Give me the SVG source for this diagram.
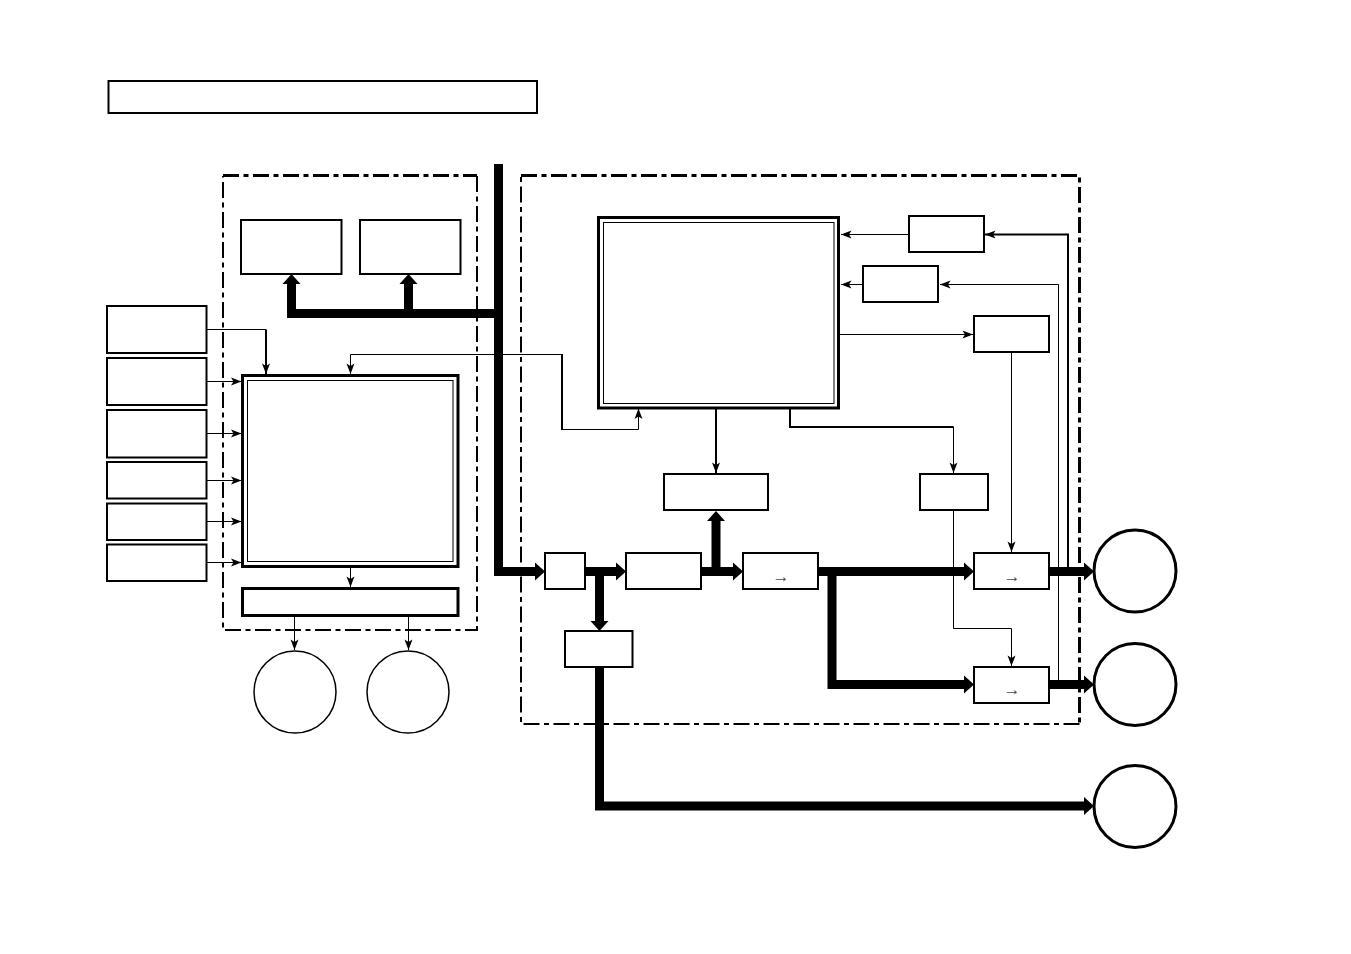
<svg xmlns="http://www.w3.org/2000/svg" width="1351" height="954" viewBox="0 0 1351 954">
<style>
.b{fill:#fff;stroke:#000;stroke-width:2}
.t{fill:#fff;stroke:#000;stroke-width:3}
.i{fill:none;stroke:#000;stroke-width:1}
.c{fill:#fff;stroke:#000;stroke-width:1.5}
.C{fill:#fff;stroke:#000;stroke-width:3}
.d{fill:none;stroke:#000;stroke-width:2;stroke-dasharray:16 4.500 5 4.500}
.D{fill:none;stroke:#000;stroke-width:3;stroke-dasharray:16 4.500 5 4.500}
.l{fill:none;stroke:#000;stroke-width:1;marker-end:url(#a)}
.l2{fill:none;stroke:#000;stroke-width:2;marker-end:url(#a)}
.p{fill:none;stroke:#000;stroke-width:1}
.p2{fill:none;stroke:#000;stroke-width:2}
.w{fill:none;stroke:#000;stroke-width:9;stroke-linejoin:miter}
.W{fill:none;stroke:#000;stroke-width:9;stroke-linejoin:miter;marker-end:url(#A)}
.x{font-family:"Liberation Serif",serif;font-size:17px;text-anchor:middle;fill:#444;opacity:.99}
</style>
<defs>
<marker id="a" markerUnits="userSpaceOnUse" markerWidth="12" markerHeight="10" refX="11" refY="5" orient="auto"><path d="M0.5 1L11 5L0.5 9L3 5Z" fill="#000"/></marker>
<marker id="A" markerUnits="userSpaceOnUse" markerWidth="11" markerHeight="20" refX="0.5" refY="10" orient="auto"><path d="M0.5 1L10.5 10L0.5 19Z" fill="#000"/></marker>
</defs>
<rect id="title" class="b" x="108.500" y="81" width="428.500" height="32"/>
<g id="group-left"><path class="D" d="M223 175.500H477"/><path class="d" d="M477 176V630H223V176"/></g>
<g id="group-right"><path class="D" d="M521 175.500H1079.500V724"/><path class="d" d="M1079.500 724H521V176"/></g>
<g id="connectors">
<path class="w" d="M498.500 164V571.500H536"/>
<path class="w" d="M498.500 313.500H291.500V283"/>
<path class="w" d="M408.500 313.500V283"/>
<path class="W" d="M498.500 571.500H535"/>
<path class="W" d="M291.500 313.500V284"/>
<path class="W" d="M408.500 313.500V284"/>
<path class="W" d="M585 571.500H616"/>
<path class="W" d="M599.500 571.500V621"/>
<path class="W" d="M702 571.500H733"/>
<path class="W" d="M716 571.500V521"/>
<path class="W" d="M819 571.500H964"/>
<path class="W" d="M832 571.500V684.500H964"/>
<path class="W" d="M1050 571.500H1084"/>
<path class="W" d="M1050 684.500H1084"/>
<path class="W" d="M599.500 667V806H1084"/>
<path class="p" d="M207 329.500H266"/><path class="l2" d="M266 329.500V374"/>
<path class="l" d="M562 354.500H350.500V374"/>
<path class="p2" d="M562 354V430"/>
<path class="l" d="M561 429.500H638.500V408.500"/>
<path class="l" d="M207 381.500H241.500"/>
<path class="l" d="M207 433.500H241.500"/>
<path class="l" d="M207 480.500H241.500"/>
<path class="l" d="M207 521.500H241.500"/>
<path class="l" d="M207 562.500H241.500"/>
<path class="l" d="M350.500 567V587"/>
<path class="l" d="M294.500 616V650"/>
<path class="l" d="M408.500 616V650"/>
<path class="l" d="M908 234.500H841"/>
<path class="l" d="M863 284.500H841"/>
<path class="l" d="M839 334.500H973"/>
<path class="l2" d="M1068 571V234.500H985"/>
<path class="l" d="M1058.500 684V284.500H940"/>
<path class="l" d="M1011.500 352V552"/>
<path class="l2" d="M716 408V473"/>
<path class="p2" d="M790 408V427H953.500"/>
<path class="l" d="M953.500 427V473"/>
<path class="l" d="M953.500 510V628.500H1011.500V666"/>
</g>
<g id="node-a"><rect class="b" x="241" y="220" width="100.500" height="54"/></g>
<g id="node-b"><rect class="b" x="360" y="220" width="100.500" height="54"/></g>
<g id="input-1"><rect class="b" x="107" y="306" width="99.500" height="47"/></g>
<g id="input-2"><rect class="b" x="107" y="358" width="99.500" height="47"/></g>
<g id="input-3"><rect class="b" x="107" y="410" width="99.500" height="47.500"/></g>
<g id="input-4"><rect class="b" x="107" y="462" width="99.500" height="36.500"/></g>
<g id="input-5"><rect class="b" x="107" y="503.500" width="99.500" height="36.500"/></g>
<g id="input-6"><rect class="b" x="107" y="544.500" width="99.500" height="36.500"/></g>
<g id="left-main"><rect class="t" x="242.500" y="375.500" width="215.500" height="191"/><rect class="i" x="247.500" y="380.500" width="205.500" height="181"/></g>
<g id="left-bar"><rect class="t" x="242.500" y="588.500" width="215.500" height="27"/></g>
<g id="circle-1"><circle class="c" cx="295" cy="692" r="41"/></g>
<g id="circle-2"><circle class="c" cx="408" cy="692" r="41"/></g>
<g id="right-main"><rect class="t" x="598.500" y="217.500" width="240" height="190.500"/><rect class="i" x="603.500" y="222.500" width="230.500" height="181"/></g>
<g id="box-r1"><rect class="b" x="909" y="216" width="75" height="36"/></g>
<g id="box-r2"><rect class="b" x="863" y="266" width="75" height="36"/></g>
<g id="box-r3"><rect class="b" x="974" y="316" width="75" height="36"/></g>
<g id="box-mid"><rect class="b" x="664" y="474" width="104" height="36"/></g>
<g id="box-sel"><rect class="b" x="920" y="474" width="68" height="36"/></g>
<g id="box-in"><rect class="b" x="545" y="553" width="40" height="36"/></g>
<g id="box-proc"><rect class="b" x="626" y="553" width="75" height="36"/></g>
<g id="box-conv1"><rect class="b" x="743" y="553" width="75" height="36"/><text class="x" x="781" y="581.500">→</text></g>
<g id="box-low"><rect class="b" x="565" y="631" width="67.500" height="36"/></g>
<g id="box-conv2"><rect class="b" x="974" y="553" width="75" height="36"/><text class="x" x="1012" y="581.500">→</text></g>
<g id="box-conv3"><rect class="b" x="974" y="667" width="75" height="36"/><text class="x" x="1012" y="694.500">→</text></g>
<g id="circle-3"><circle class="C" cx="1135" cy="571" r="41"/></g>
<g id="circle-4"><circle class="C" cx="1135" cy="684.500" r="41"/></g>
<g id="circle-5"><circle class="C" cx="1135" cy="806.500" r="41"/></g>
</svg>
